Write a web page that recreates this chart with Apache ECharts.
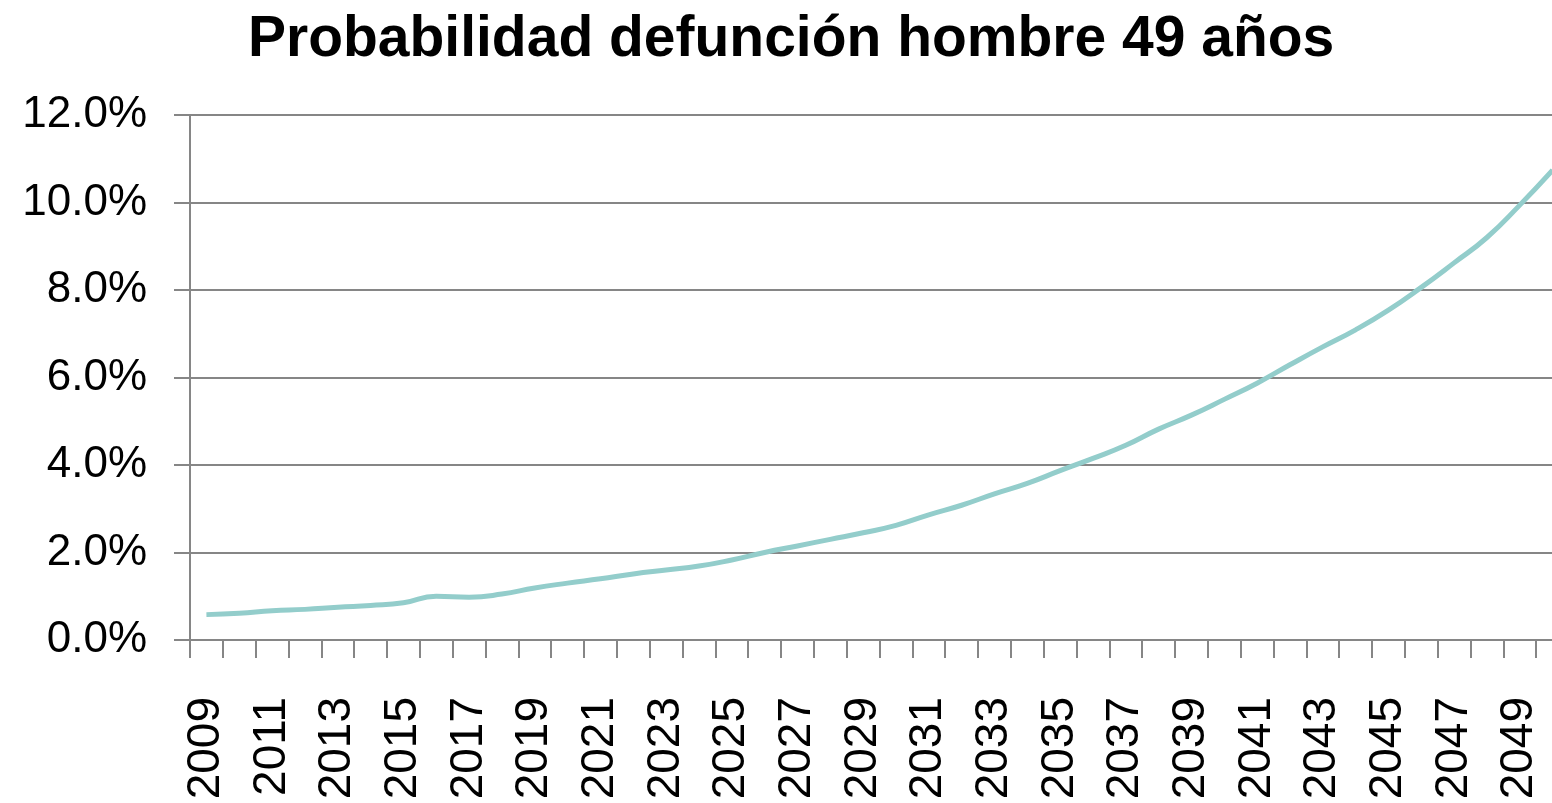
<!DOCTYPE html>
<html>
<head>
<meta charset="utf-8">
<title>Probabilidad defunción hombre 49 años</title>
<script src="https://cdn.jsdelivr.net/npm/echarts@6/dist/echarts.min.js"></script>
<style>
  html, body { margin: 0; padding: 0; background: #fff; }
  #chart { width: 1552px; height: 803px; }
</style>
</head>
<body>
<div id="chart"></div>
<script>
// años 2009 - 2050
var years = ['2009', '2010', '2011', '2012', '2013', '2014', '2015', '2016', '2017', '2018',
  '2019', '2020', '2021', '2022', '2023', '2024', '2025', '2026', '2027', '2028',
  '2029', '2030', '2031', '2032', '2033', '2034', '2035', '2036', '2037', '2038',
  '2039', '2040', '2041', '2042', '2043', '2044', '2045', '2046', '2047', '2048',
  '2049', '2050'];

// probabilidad en %
var probabilidad = [0.58, 0.61, 0.67, 0.70, 0.75, 0.79, 0.85, 1.00, 0.98, 1.05,
  1.19, 1.30, 1.40, 1.51, 1.60, 1.69, 1.83, 2.00, 2.15, 2.30,
  2.45, 2.62, 2.86, 3.08, 3.34, 3.58, 3.87, 4.15, 4.45, 4.82,
  5.14, 5.50, 5.87, 6.29, 6.70, 7.09, 7.54, 8.06, 8.62, 9.20,
  9.94, 10.74];

var yTicks = { min: 0, max: 12, interval: 2 };

var chart = echarts.init(document.getElementById('chart'));

var gris = '#868686';
var fuente = '"Liberation Sans", Arial, sans-serif';

chart.setOption({
  animation: false,
  backgroundColor: '#fff',
  title: {
    text: 'Probabilidad defunción hombre 49 años',
    left: 243,
    top: 7,
    textStyle: {
      fontFamily: fuente,
      fontWeight: 'bold',
      fontSize: 57,
      color: '#000'
    }
  },
  // el último año queda cortado por el borde derecho
  grid: {
    left: 190,
    width: 1379,
    top: 115,
    bottom: 163,
    outerBoundsMode: 'none',
    containLabel: false
  },
  xAxis: {
    type: 'category',
    data: years,
    boundaryGap: true,
    axisLine: { lineStyle: { color: gris, width: 2 } },
    axisTick: { show: true, length: 18, interval: 0, lineStyle: { color: gris, width: 2 } },
    axisLabel: {
      interval: 1,
      rotate: 90,
      margin: 57,
      fontFamily: fuente,
      fontSize: 46,
      color: '#000'
    },
    splitLine: { show: false }
  },
  yAxis: {
    type: 'value',
    min: yTicks.min,
    max: yTicks.max,
    interval: yTicks.interval,
    axisLine: { show: true, lineStyle: { color: gris, width: 2 } },
    axisTick: { show: true, length: 16, lineStyle: { color: gris, width: 2 } },
    axisLabel: {
      margin: 43,
      fontFamily: fuente,
      fontSize: 44,
      color: '#000',
      formatter: function (v) { return v.toFixed(1) + '%'; }
    },
    splitLine: { lineStyle: { color: gris, width: 2 } }
  },
  series: [{
    type: 'line',
    data: probabilidad,
    smooth: true,
    symbol: 'none',
    lineStyle: { color: '#93CDCB', width: 5 }
  }]
});
</script>
</body>
</html>
